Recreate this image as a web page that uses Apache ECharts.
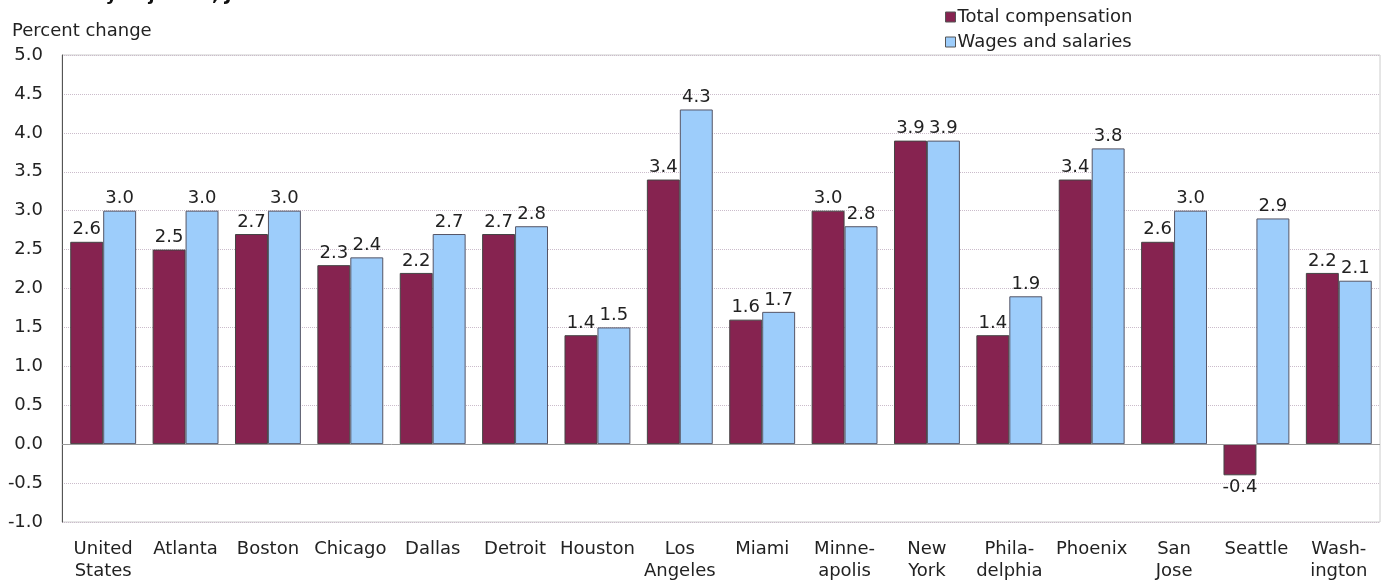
<!DOCTYPE html>
<html><head><meta charset="utf-8">
<script src="https://cdn.jsdelivr.net/npm/echarts@6/dist/echarts.min.js"></script>
<style>html,body{margin:0;padding:0;background:#fff}#c{width:1387px;height:582px}</style>
</head><body><div id="c"></div>
<script>
const categories = ["United\nStates","Atlanta","Boston","Chicago","Dallas","Detroit","Houston","Los\nAngeles","Miami","Minne-\napolis","New\nYork","Phila-\ndelphia","Phoenix","San\nJose","Seattle","Wash-\nington"];
const totalCompensation = [2.6,2.5,2.7,2.3,2.2,2.7,1.4,3.4,1.6,3.0,3.9,1.4,3.4,2.6,-0.4,2.2];
const wagesSalaries = [3.0,3.0,3.0,2.4,2.7,2.8,1.5,4.3,1.7,2.8,3.9,1.9,3.8,3.0,2.9,2.1];
const seriesNames = ["Total compensation","Wages and salaries"];

const font = "'DejaVu Sans', sans-serif";
function mk(arr){ return arr.map(v => v < 0 ? {value:v, label:{position:'bottom'}} : v); }
const lbl = {show:true, position:'top', distance:3, color:'#222', fontSize:18, fontFamily:font, formatter:p=>Number(p.value).toFixed(1)};

const chart = echarts.init(document.getElementById('c'), null, {renderer:'canvas'});
chart.setOption({
  animation:false,
  backgroundColor:'#fff',
  textStyle:{fontFamily:font},
  graphic:[
    {type:'text', left:10, top:-14, style:{text:'seasonally adjusted, June 2019', font:'bold 18px '+font, fill:'#111'}},
    {type:'text', left:12, top:22, style:{text:'Percent change', font:'18px '+font, fill:'#222'}}
  ],
  legend:{
    orient:'vertical', left:940, top:3, itemWidth:10, itemHeight:10, itemGap:7, icon:'rect',
    itemStyle:{borderColor:'#555',borderWidth:1},
    textStyle:{fontSize:18, color:'#222', fontFamily:font, padding:[0,0,0,-3]},
    data:seriesNames
  },
  grid:{left:62, right:7, top:55, bottom:60, show:true, borderColor:'#ccc', borderWidth:1},
  xAxis:{
    type:'category', data:categories,
    axisLine:{show:false}, axisTick:{show:false},
    axisLabel:{fontSize:18, color:'#222', fontFamily:font, lineHeight:22, margin:16, interval:0}
  },
  yAxis:{
    type:'value', min:-1, max:5, interval:0.5,
    axisLine:{show:true, lineStyle:{color:'#555', width:1}},
    axisTick:{show:false},
    axisLabel:{fontSize:18, color:'#222', fontFamily:font, margin:19, formatter:v=>v.toFixed(1)},
    splitLine:{show:true, lineStyle:{color:'#cbbccb', type:'dotted', width:1}}
  },
  series:[
    {name:seriesNames[0], type:'bar', data:mk(totalCompensation), barGap:'0%', barCategoryGap:'20%',
     itemStyle:{color:'#862350', borderColor:'#444', borderWidth:1}, label:lbl,
     markLine:{silent:true, symbol:'none', label:{show:false}, lineStyle:{color:'#999', type:'solid', width:1}, data:[{yAxis:0}]}},
    {name:seriesNames[1], type:'bar', data:mk(wagesSalaries),
     itemStyle:{color:'#9DCDFB', borderColor:'#556', borderWidth:1}, label:lbl}
  ]
});
</script></body></html>
